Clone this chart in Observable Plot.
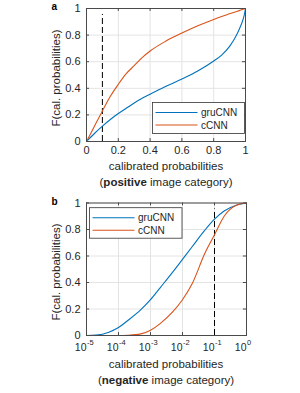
<!DOCTYPE html>
<html><head><meta charset="utf-8">
<script src="https://cdn.jsdelivr.net/npm/d3@7"></script>
<script src="https://cdn.jsdelivr.net/npm/@observablehq/plot@0.6"></script>
<style>
body{margin:0;background:#fff}
#a,#b{display:block;width:300px}
svg{display:block}
</style>
</head><body><div id="a"></div><div id="b"></div>
<script>
// ---------- data ----------
const seriesNames = ["gruCNN", "cCNN"];
const threshold = 0.1;

// panel a: positive image category (linear x)
const aX   = [0, 0.05, 0.1, 0.15, 0.2, 0.25, 0.3, 0.35, 0.4, 0.5, 0.6, 0.7, 0.8, 0.85, 0.9, 0.93, 0.95, 0.97, 0.98, 0.99, 1];
const aGru = [0, 0.06, 0.115, 0.165, 0.21, 0.25, 0.29, 0.325, 0.355, 0.415, 0.47, 0.53, 0.605, 0.65, 0.715, 0.77, 0.815, 0.87, 0.9, 0.94, 1];
const aC   = [0, 0.115, 0.23, 0.34, 0.43, 0.51, 0.57, 0.63, 0.68, 0.755, 0.815, 0.87, 0.918, 0.94, 0.96, 0.972, 0.98, 0.988, 0.992, 0.996, 1];

// panel b: negative image category (log x)
const bX   = [1e-5, 2e-5, 5e-5, 1e-4, 2e-4, 5e-4, 1e-3, 2e-3, 5e-3, 1e-2, 2e-2, 5e-2, 1e-1, 2e-1, 5e-1, 1];
const bGru = [0, 0.003, 0.025, 0.06, 0.115, 0.195, 0.27, 0.36, 0.48, 0.575, 0.67, 0.795, 0.878, 0.94, 0.985, 1];
const bC   = [0, 0, 0, 0, 0.002, 0.012, 0.04, 0.09, 0.18, 0.27, 0.39, 0.62, 0.76, 0.9, 0.985, 1];

// ticks
const yTicks   = [0, 0.2, 0.4, 0.6, 0.8, 1];
const yLabels  = ["0", "0.2", "0.4", "0.6", "0.8", "1"];
const aXTicks  = [0, 0.2, 0.4, 0.6, 0.8, 1];
const aXLabels = ["0", "0.2", "0.4", "0.6", "0.8", "1"];
const bXTicks  = [1e-5, 1e-4, 1e-3, 1e-2, 1e-1, 1];
const bXBase   = ["10", "10", "10", "10", "10", "10"];
const bXExp    = ["-5", "-4", "-3", "-2", "-1", "0"];

// ---------- style ----------
const font = "'Liberation Sans', Arial, Helvetica, sans-serif";
const textColor = "#262626";
const gridColor = "#e4e4e4";
const frameColor = "#4a4a4a";
const colors = ["#0072BD", "#D95319"];

const toRows = (xs, ys) => xs.map((x, i) => ({x, y: ys[i]}));

function commonMarks(xTicks, xTickLen) {
  return [
    Plot.gridX(xTicks, {stroke: gridColor, strokeOpacity: 1}),
    Plot.gridY(yTicks, {stroke: gridColor, strokeOpacity: 1}),
    Plot.ruleY(yTicks, {y: d => d, x1: xTickLen[0], x2: xTickLen[1], stroke: frameColor}),
    Plot.ruleY(yTicks, {y: d => d, x1: xTickLen[2], x2: xTickLen[3], stroke: frameColor}),
    Plot.ruleX(xTicks, {x: d => d, y1: 0, y2: 0.022, stroke: frameColor}),
    Plot.ruleX(xTicks, {x: d => d, y1: 0.978, y2: 1, stroke: frameColor}),
    Plot.axisY(yTicks, {tickSize: 0, tickPadding: 6, label: null, fill: textColor, fontSize: 11,
      tickFormat: d => yLabels[yTicks.indexOf(d)]})
  ];
}

// ---------- panel a ----------
const plotA = Plot.plot({
  width: 300, height: 195,
  marginTop: 8, marginBottom: 54, marginLeft: 86, marginRight: 55,
  style: {fontFamily: font, fontSize: "11px", color: textColor, background: "#fff", overflow: "visible"},
  x: {domain: [0, 1], axis: null},
  y: {domain: [0, 1], axis: null},
  marks: [
    ...commonMarks(aXTicks, [0, 0.019, 0.981, 1]),
    Plot.axisX(aXTicks, {tickSize: 0, tickPadding: 5, label: null, fill: textColor, fontSize: 11,
      tickFormat: d => aXLabels[aXTicks.indexOf(d)]}),
    Plot.ruleX([threshold], {y1: 0, y2: 0.955, stroke: "#000", strokeWidth: 1, strokeDasharray: "6,3"}),
    Plot.line(toRows(aX, aGru), {x: "x", y: "y", stroke: colors[0], strokeWidth: 1.1, curve: "monotone-x"}),
    Plot.line(toRows(aX, aC), {x: "x", y: "y", stroke: colors[1], strokeWidth: 1.1, curve: "monotone-x"}),
    Plot.frame({stroke: frameColor})
  ]
});

// ---------- panel b ----------
const plotB = Plot.plot({
  width: 300, height: 198,
  marginTop: 7.5, marginBottom: 58, marginLeft: 86, marginRight: 54,
  style: {fontFamily: font, fontSize: "11px", color: textColor, background: "#fff", overflow: "visible"},
  x: {type: "log", domain: [1e-5, 1], axis: null},
  y: {domain: [0, 1], axis: null},
  marks: [
    ...commonMarks(bXTicks, [1e-5, 1.25e-5, 0.8, 1]),
    Plot.text(bXTicks, {x: d => d, frameAnchor: "bottom", text: (d, i) => bXBase[i],
      textAnchor: "end", lineAnchor: "middle", dy: 12, fill: textColor, fontSize: 10.5}),
    Plot.text(bXTicks, {x: d => d, frameAnchor: "bottom", text: (d, i) => bXExp[i],
      textAnchor: "start", lineAnchor: "middle", dx: 0.5, dy: 7.5, fill: textColor, fontSize: 7.5}),
    Plot.ruleX([threshold], {y1: 0, y2: 0.955, stroke: "#000", strokeWidth: 1, strokeDasharray: "6,3"}),
    Plot.line(toRows(bX, bGru), {x: "x", y: "y", stroke: colors[0], strokeWidth: 1.1, curve: "monotone-x"}),
    Plot.line(toRows(bX, bC), {x: "x", y: "y", stroke: colors[1], strokeWidth: 1.1, curve: "monotone-x"}),
    Plot.frame({stroke: frameColor})
  ]
});

// ---------- annotations (titles, labels, legends) ----------
function decorate(svg, o) {
  const s = d3.select(svg);
  s.append("text").attr("x", 51.5).attr("y", 10).attr("font-weight", "bold")
    .attr("text-anchor", "start")
    .attr("font-size", 10).attr("fill", "#000").attr("font-family", font).text(o.tag);
  s.append("text").attr("transform", `translate(60,${o.yLabelY}) rotate(-90)`)
    .attr("text-anchor", "middle").attr("font-size", 11.5).attr("fill", textColor)
    .attr("font-family", font).text("F(cal. probabilities)");
  s.append("text").attr("x", 166).attr("y", o.line1).attr("text-anchor", "middle")
    .attr("font-size", 11.5).attr("fill", textColor).attr("font-family", font)
    .text("calibrated probabilities");
  const t2 = s.append("text").attr("x", 166).attr("y", o.line2).attr("text-anchor", "middle")
    .attr("font-size", 11.5).attr("fill", textColor).attr("font-family", font);
  t2.append("tspan").text("(");
  t2.append("tspan").attr("font-weight", "bold").text(o.bold);
  t2.append("tspan").text(" image category)");
  // legend
  const g = s.append("g");
  g.append("rect").attr("x", o.lx).attr("y", o.ly).attr("width", o.lw).attr("height", o.lh)
    .attr("fill", "#fff").attr("stroke", "#333").attr("stroke-width", 0.8);
  seriesNames.forEach((name, i) => {
    const yy = o.ly + 10 + i * 12.5;
    g.append("line").attr("x1", o.lx + 3).attr("x2", o.lx + 45).attr("y1", yy).attr("y2", yy)
      .attr("stroke", colors[i]).attr("stroke-width", 1.1);
    g.append("text").attr("x", o.lx + 48.5).attr("y", yy + 3.6).attr("font-size", 10)
      .attr("text-anchor", "start")
      .attr("fill", textColor).attr("font-family", font).text(name);
  });
}
decorate(plotA, {tag: "a", yLabelY: 78, line1: 169.5, line2: 185.8, bold: "positive",
  lx: 152.5, ly: 102.5, lw: 92, lh: 31});
decorate(plotB, {tag: "b", yLabelY: 77, line1: 173, line2: 188.5, bold: "negative",
  lx: 89.5, ly: 12.7, lw: 92.5, lh: 30.5});

document.getElementById("a").appendChild(plotA);
document.getElementById("b").appendChild(plotB);
</script>
</body></html>
